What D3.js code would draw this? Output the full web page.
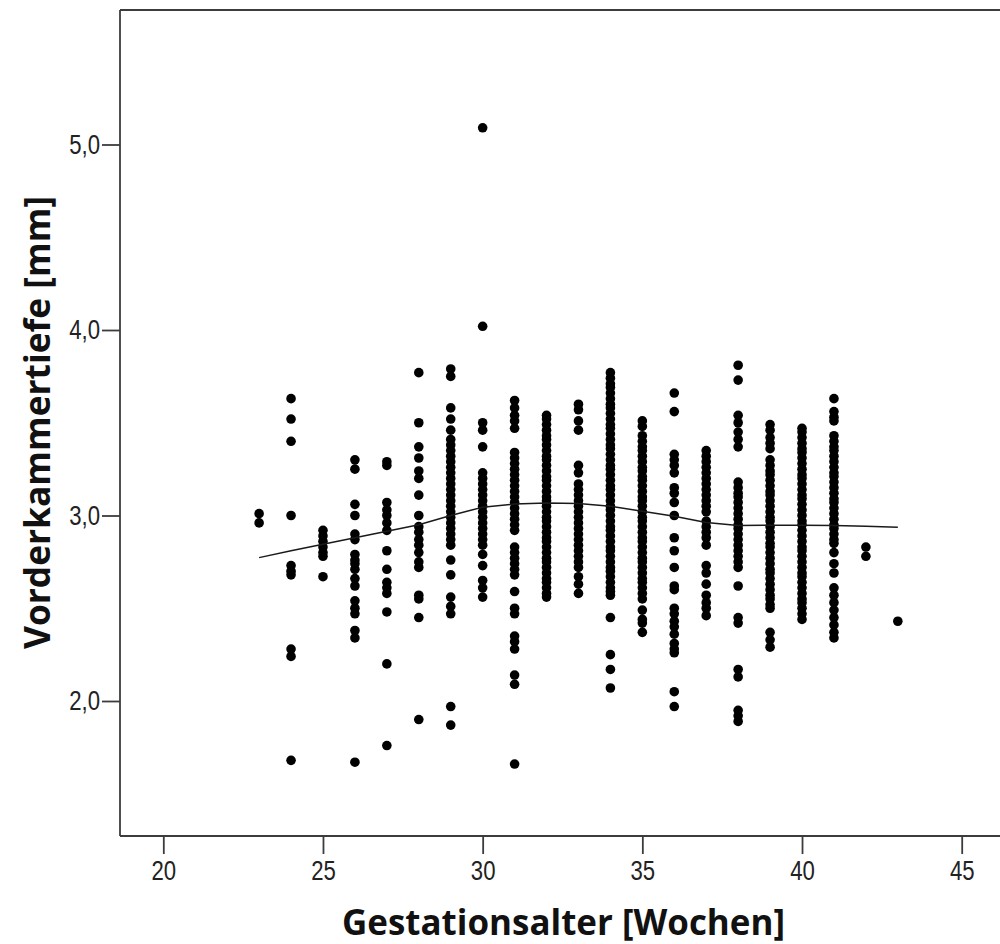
<!DOCTYPE html>
<html>
<head>
<meta charset="utf-8">
<script src="https://cdn.jsdelivr.net/npm/d3@7"></script>
<style>
  body { margin: 0; background: #fff; }
  svg { display: block; }
  .axis path, .axis line { stroke: #3c3c3c; stroke-width: 1.8; }
  .axis text { font-family: 'Liberation Sans Narrow', 'Arial Narrow', 'Liberation Sans', sans-serif; font-size: 27px; fill: #222; }
  .title { font-family: 'Open Sans', 'DejaVu Sans', sans-serif; font-weight: bold; font-size: 35px; fill: #111; }
</style>
</head>
<body>
<div id="chart"></div>
<script>
// Vorderkammertiefe [mm] per Gestationswoche
const w23 = [3.01, 2.96];
const w24 = [3.63, 3.52, 3.40, 3.00, 2.73, 2.70, 2.68, 2.28, 2.24, 1.68];
const w25 = [2.92, 2.89, 2.86, 2.83, 2.80, 2.78, 2.67];
const w26 = [3.30, 3.25, 3.06, 3.00, 2.90, 2.87, 2.79, 2.76, 2.74, 2.71, 2.66, 2.62, 2.54, 2.50, 2.47, 2.38, 2.34, 1.67];
const w27 = [3.29, 3.27, 3.07, 3.03, 3.00, 2.96, 2.92, 2.81, 2.71, 2.64, 2.61, 2.58, 2.48, 2.20, 1.76];
const w28 = [3.77, 3.50, 3.37, 3.31, 3.24, 3.20, 3.11, 3.00, 2.94, 2.91, 2.87, 2.84, 2.80, 2.75, 2.72, 2.57, 2.55, 2.45, 1.90];
const w29 = [3.79, 3.75, 3.58, 3.52, 3.46, 3.41, 3.38, 3.35, 3.32, 3.29, 3.26, 3.23, 3.20, 3.17, 3.14, 3.11, 3.08,
             3.05, 3.02, 2.99, 2.96, 2.93, 2.90, 2.87, 2.84, 2.76, 2.68, 2.56, 2.51, 2.47, 1.97, 1.87];
const w30 = [5.09, 4.02, 3.50, 3.46, 3.37, 3.23, 3.20, 3.17, 3.14, 3.11, 3.08, 3.05, 3.02, 2.99, 2.96, 2.93, 2.90,
             2.87, 2.84, 2.79, 2.73, 2.65, 2.61, 2.56];
const w31 = [3.62, 3.58, 3.54, 3.51, 3.47, 3.34, 3.31, 3.28, 3.25, 3.22, 3.19, 3.16, 3.13, 3.10, 3.07, 3.04, 3.01,
             2.98, 2.95, 2.92, 2.83, 2.80, 2.77, 2.74, 2.71, 2.68, 2.59, 2.50, 2.47, 2.35, 2.32, 2.28, 2.14, 2.09, 1.66];
const w32 = [3.54, 3.52, 3.49, 3.46, 3.43, 3.41, 3.38, 3.35, 3.32, 3.30, 3.27, 3.24, 3.21, 3.19, 3.16, 3.13, 3.10,
             3.08, 3.05, 3.02, 2.99, 2.97, 2.94, 2.91, 2.88, 2.86, 2.83, 2.80, 2.77, 2.75, 2.72, 2.69, 2.66, 2.64,
             2.61, 2.58, 2.56];
const w33 = [3.60, 3.57, 3.51, 3.46, 3.27, 3.23, 3.17, 3.14, 3.11, 3.08, 3.05, 3.02, 2.99, 2.96, 2.93, 2.90, 2.87,
             2.84, 2.81, 2.78, 2.75, 2.72, 2.67, 2.63, 2.58];
const w34 = [3.77, 3.74, 3.71, 3.69, 3.66, 3.63, 3.60, 3.58, 3.55, 3.52, 3.49, 3.47, 3.44, 3.41, 3.38, 3.36, 3.33,
             3.30, 3.27, 3.25, 3.22, 3.19, 3.16, 3.14, 3.11, 3.08, 3.05, 3.03, 3.00, 2.97, 2.94, 2.92, 2.89, 2.86,
             2.83, 2.81, 2.78, 2.75, 2.72, 2.70, 2.67, 2.64, 2.61, 2.59, 2.57, 2.45, 2.25, 2.17, 2.07];
const w35 = [3.51, 3.48, 3.43, 3.40, 3.37, 3.35, 3.32, 3.29, 3.26, 3.24, 3.21, 3.19, 3.16, 3.13, 3.10, 3.08, 3.05,
             3.02, 2.99, 2.97, 2.94, 2.91, 2.88, 2.86, 2.83, 2.80, 2.77, 2.75, 2.72, 2.69, 2.66, 2.64, 2.61, 2.58,
             2.55, 2.49, 2.44, 2.42, 2.37];
const w36 = [3.66, 3.56, 3.33, 3.30, 3.27, 3.23, 3.15, 3.12, 3.07, 3.00, 2.88, 2.81, 2.72, 2.62, 2.60, 2.50, 2.47,
             2.43, 2.40, 2.36, 2.31, 2.28, 2.26, 2.05, 1.97];
const w37 = [3.35, 3.32, 3.29, 3.26, 3.23, 3.20, 3.17, 3.14, 3.11, 3.08, 3.05, 3.02, 2.97, 2.94, 2.91, 2.88, 2.84,
             2.73, 2.69, 2.63, 2.57, 2.53, 2.50, 2.46];
const w38 = [3.81, 3.73, 3.54, 3.50, 3.45, 3.41, 3.37, 3.18, 3.15, 3.12, 3.10, 3.07, 3.04, 3.01, 2.98, 2.95, 2.93,
             2.90, 2.87, 2.84, 2.81, 2.78, 2.75, 2.72, 2.62, 2.45, 2.42, 2.17, 2.13, 1.95, 1.92, 1.89];
const w39 = [3.49, 3.46, 3.42, 3.39, 3.36, 3.30, 3.27, 3.24, 3.22, 3.19, 3.16, 3.13, 3.11, 3.08, 3.05, 3.02, 2.99,
             2.97, 2.94, 2.91, 2.88, 2.85, 2.83, 2.80, 2.77, 2.74, 2.71, 2.69, 2.66, 2.63, 2.60, 2.57, 2.55, 2.52,
             2.50, 2.37, 2.33, 2.29];
const w40 = [3.47, 3.45, 3.42, 3.39, 3.36, 3.34, 3.31, 3.28, 3.25, 3.22, 3.20, 3.17, 3.14, 3.11, 3.09, 3.06, 3.03,
             3.00, 2.97, 2.95, 2.92, 2.89, 2.86, 2.83, 2.81, 2.78, 2.75, 2.72, 2.69, 2.67, 2.64, 2.61, 2.58, 2.55,
             2.53, 2.50, 2.47, 2.44];
const w41 = [3.63, 3.56, 3.53, 3.51, 3.43, 3.40, 3.37, 3.35, 3.32, 3.29, 3.26, 3.23, 3.21, 3.18, 3.15, 3.12, 3.09,
             3.07, 3.04, 3.01, 2.98, 2.95, 2.93, 2.90, 2.87, 2.85, 2.80, 2.74, 2.69, 2.61, 2.57, 2.53, 2.49, 2.45,
             2.41, 2.37, 2.34];
const w42 = [2.83, 2.78];
const w43 = [2.43];

// Loess-Anpassungslinie
const fitWeeks = [23, 24, 25, 26, 27, 28, 29, 30, 31, 32, 33, 34, 35, 36, 37, 38, 39, 40, 41, 42, 43];
const fitDepth = [2.773, 2.81, 2.845, 2.88, 2.915, 2.95, 3.0, 3.045, 3.062, 3.067, 3.065, 3.05, 3.023, 2.996,
                  2.962, 2.946, 2.948, 2.948, 2.946, 2.942, 2.937];

const xTicks = [20, 25, 30, 35, 40, 45];
const yTicks = [2, 3, 4, 5];
const xLabel = 'Gestationsalter [Wochen]';
const yLabel = 'Vorderkammertiefe [mm]';

const columns = [[23, w23], [24, w24], [25, w25], [26, w26], [27, w27], [28, w28], [29, w29], [30, w30],
                 [31, w31], [32, w32], [33, w33], [34, w34], [35, w35], [36, w36], [37, w37], [38, w38],
                 [39, w39], [40, w40], [41, w41], [42, w42], [43, w43]];
const points = columns.flatMap(([w, vals]) => vals.map(v => ({ w, v })));

const width = 1000, height = 944;
const frame = { left: 120, top: 10, right: 1006, bottom: 836 };

const svg = d3.select('#chart').append('svg')
    .attr('width', width)
    .attr('height', height);

const x = d3.scaleLinear().domain([20, 45]).range([163.3, 961.7]);
const y = d3.scaleLinear().domain([2, 5]).range([701, 144.5]);

const comma = d => d3.format('.1f')(d).replace('.', ',');

// narrow the tick labels like the condensed original font
function narrow(sel) {
    sel.selectAll('.tick text').each(function () {
        const w = this.getComputedTextLength();
        d3.select(this)
            .attr('textLength', w * 0.82)
            .attr('lengthAdjust', 'spacingAndGlyphs');
    });
}

// frame (top + right)
svg.append('path')
    .attr('d', `M${frame.left},${frame.top}H${frame.right}V${frame.bottom}`)
    .attr('fill', 'none')
    .attr('stroke', '#3c3c3c')
    .attr('stroke-width', 1.8);

const xAxis = svg.append('g')
    .attr('class', 'axis')
    .attr('transform', `translate(0,${frame.bottom})`)
    .call(d3.axisBottom(x).tickValues(xTicks).tickSize(18).tickPadding(7).tickSizeOuter(0));
xAxis.select('.domain').attr('d', `M${frame.left},0H${frame.right}`);
narrow(xAxis);

const yAxis = svg.append('g')
    .attr('class', 'axis')
    .attr('transform', `translate(${frame.left},0)`)
    .call(d3.axisLeft(y).tickValues(yTicks).tickFormat(comma).tickSize(18).tickPadding(2).tickSizeOuter(0));
yAxis.select('.domain').attr('d', `M0,${frame.top}V${frame.bottom}`);
narrow(yAxis);

// points
svg.append('g')
    .selectAll('circle')
    .data(points)
    .enter()
    .append('circle')
    .attr('cx', d => x(d.w))
    .attr('cy', d => y(d.v))
    .attr('r', 4.8)
    .attr('fill', '#000');

// fit line
const line = d3.line()
    .x((d, i) => x(fitWeeks[i]))
    .y(d => y(d));
svg.append('path')
    .datum(fitDepth)
    .attr('d', line)
    .attr('fill', 'none')
    .attr('stroke', '#1a1a1a')
    .attr('stroke-width', 1.5);

// axis titles
svg.append('text')
    .attr('class', 'title')
    .attr('x', 342)
    .attr('y', 935)
    .attr('textLength', 443)
    .attr('lengthAdjust', 'spacingAndGlyphs')
    .text(xLabel);

svg.append('text')
    .attr('class', 'title')
    .attr('transform', 'translate(50,649) rotate(-90)')
    .attr('textLength', 453)
    .attr('lengthAdjust', 'spacingAndGlyphs')
    .text(yLabel);
</script>
</body>
</html>
